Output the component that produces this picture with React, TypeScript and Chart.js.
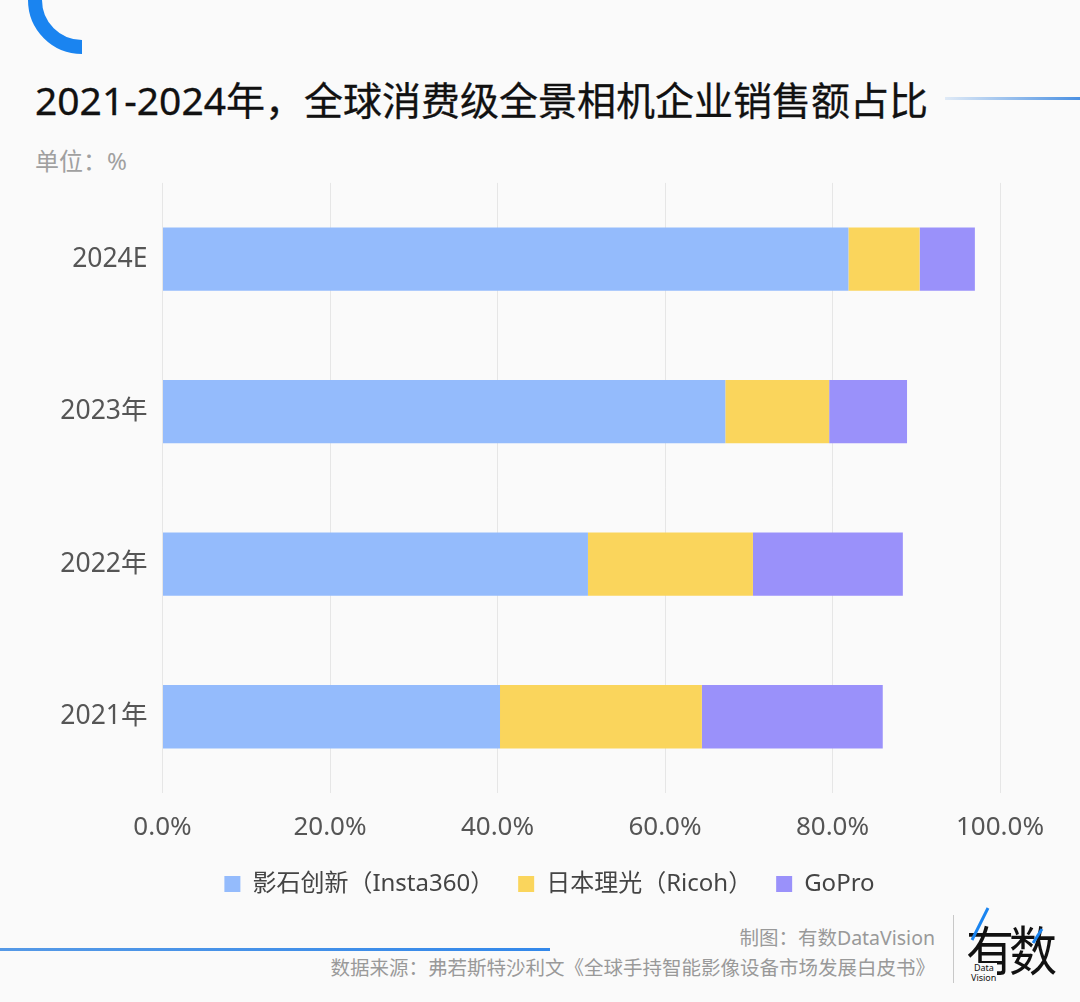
import React, { useEffect, useRef } from 'react';
import { Chart, registerables } from 'chart.js';

Chart.register(...registerables);

const categories = ['2024E', '2023年', '2022年', '2021年'];
const seriesNames = ['影石创新（Insta360）', '日本理光（Ricoh）', 'GoPro'];
const insta360 = [81.9, 67.2, 50.8, 40.3];
const ricoh = [8.5, 12.4, 19.7, 24.1];
const gopro = [6.6, 9.3, 17.9, 21.6];
const xTicks = [0, 20, 40, 60, 80, 100];
const seriesColors = ['#94BBFC', '#FAD55C', '#9A91FA'];

const FONT = '"Noto Sans", "Noto Sans CJK SC", sans-serif';
const CJK = '"Noto Sans CJK SC", "Noto Sans", sans-serif';

function BarChart() {
  const ref = useRef<HTMLCanvasElement | null>(null);
  useEffect(() => {
    if (!ref.current) return;
    const seriesData = [insta360, ricoh, gopro];
    const chart = new Chart(ref.current, {
      type: 'bar',
      data: {
        labels: categories,
        datasets: seriesNames.map((name, i) => ({
          label: name,
          data: seriesData[i],
          backgroundColor: seriesColors[i],
          borderWidth: 0,
          categoryPercentage: 1,
          barPercentage: 0.415,
          yAxisID: 'y',
        })),
      },
      options: {
        indexAxis: 'y',
        responsive: false,
        animation: false,
        layout: { padding: 0 },
        plugins: {
          legend: {
            position: 'bottom',
            labels: {
              boxWidth: 16,
              boxHeight: 16,
              padding: 24,
              color: '#444',
              font: { family: FONT, size: 24 },
            },
          },
          tooltip: { enabled: false },
        },
        scales: {
          x: {
            stacked: true,
            min: 0,
            max: 100,
            afterBuildTicks: (s: any) => {
              s.ticks = xTicks.map((v) => ({ value: v }));
            },
            afterFit: (s: any) => {
              s.height = 55;
            },
            ticks: {
              callback: (v: any) => Number(v).toFixed(1) + '%',
              color: '#555',
              font: { family: FONT, size: 26 },
              padding: 19,
              maxRotation: 0,
            },
            grid: { color: '#e6e6e6', drawTicks: false, lineWidth: 1 },
            border: { display: false },
          },
          y: {
            stacked: true,
            afterFit: (s: any) => {
              s.width = 152.5;
            },
            ticks: {
              color: '#555',
              font: { family: FONT, size: 26.5 },
              padding: 7,
            },
            grid: { display: false },
            border: { display: false },
          },
          yRight: {
            type: 'category',
            position: 'right',
            display: true,
            afterFit: (s: any) => {
              s.width = 89;
            },
            ticks: { display: false },
            grid: { display: false },
            border: { display: false },
          },
        },
      },
    } as any);
    return () => chart.destroy();
  }, []);
  return (
    <canvas
      ref={ref}
      width={1079}
      height={746}
      style={{ position: 'absolute', left: 10, top: 160, width: 1079, height: 746 }}
    />
  );
}

export default function App() {
  return (
    <div
      style={{
        position: 'fixed',
        left: 0,
        top: 0,
        width: 1080,
        height: 1002,
        background: '#fafafa',
        overflow: 'hidden',
        fontFamily: CJK,
      }}
    >
      <svg width={120} height={70} style={{ position: 'absolute', left: 0, top: 0 }}>
        <path d="M 35 0 A 47 47 0 0 0 82 47" stroke="#1a84f0" strokeWidth={14} fill="none" />
      </svg>
      <div
        style={{
          position: 'absolute',
          left: 35,
          top: 80,
          fontSize: 39,
          lineHeight: '39px',
          fontWeight: 400,
          color: '#111',
          whiteSpace: 'nowrap',
          fontFamily: FONT,
          WebkitTextStroke: '0.3px #111',
        }}
      >
        2021-2024年，全球消费级全景相机企业销售额占比
      </div>
      <div
        style={{
          position: 'absolute',
          left: 945,
          top: 97,
          width: 135,
          height: 3,
          background: 'linear-gradient(to right, rgba(74,144,226,0.15), #4a90e2)',
        }}
      />
      <div
        style={{
          position: 'absolute',
          left: 35,
          top: 148,
          fontSize: 24,
          lineHeight: '26px',
          color: '#a0a0a0',
          whiteSpace: 'nowrap',
          fontFamily: FONT,
        }}
      >
        单位：%
      </div>
      <BarChart />
      <div
        style={{
          position: 'absolute',
          left: 0,
          top: 948,
          width: 550,
          height: 3,
          background: 'linear-gradient(to right, #5599e6, #3388ea)',
        }}
      />
      <div
        style={{
          position: 'absolute',
          right: 1080 - 935,
          top: 925,
          fontSize: 19.5,
          lineHeight: '26px',
          color: '#999',
          whiteSpace: 'nowrap',
          fontFamily: FONT,
        }}
      >
        制图：有数DataVision
      </div>
      <div
        style={{
          position: 'absolute',
          right: 1080 - 935,
          top: 955,
          fontSize: 19.5,
          lineHeight: '26px',
          color: '#999',
          whiteSpace: 'nowrap',
          fontFamily: FONT,
        }}
      >
        数据来源：弗若斯特沙利文《全球手持智能影像设备市场发展白皮书》
      </div>
      <div style={{ position: 'absolute', left: 953, top: 915, width: 1, height: 68, background: '#c8c8c8' }} />
      <div
        style={{
          position: 'absolute',
          left: 966,
          top: 908,
          fontSize: 48,
          lineHeight: '70px',
          color: '#111',
          whiteSpace: 'nowrap',
          letterSpacing: -5,
          transform: 'scaleY(1.12)',
          transformOrigin: 'top left',
        }}
      >
        有数
      </div>
      <div
        style={{
          position: 'absolute',
          left: 970,
          top: 963,
          fontSize: 9,
          lineHeight: '10px',
          color: '#111',
          fontFamily: FONT,
          background: '#fafafa',
          padding: '0 1px',
        }}
      >
        <div style={{ paddingLeft: 3 }}>Data</div>
        <div>Vision</div>
      </div>
      <svg width={1080} height={1002} style={{ position: 'absolute', left: 0, top: 0, pointerEvents: 'none' }}>
        <line x1={988} y1={908} x2={972} y2={940} stroke="#1a84f0" strokeWidth={3} />
        <line x1={1042} y1={929} x2={1033} y2={943} stroke="#1a84f0" strokeWidth={3} />
      </svg>
    </div>
  );
}
